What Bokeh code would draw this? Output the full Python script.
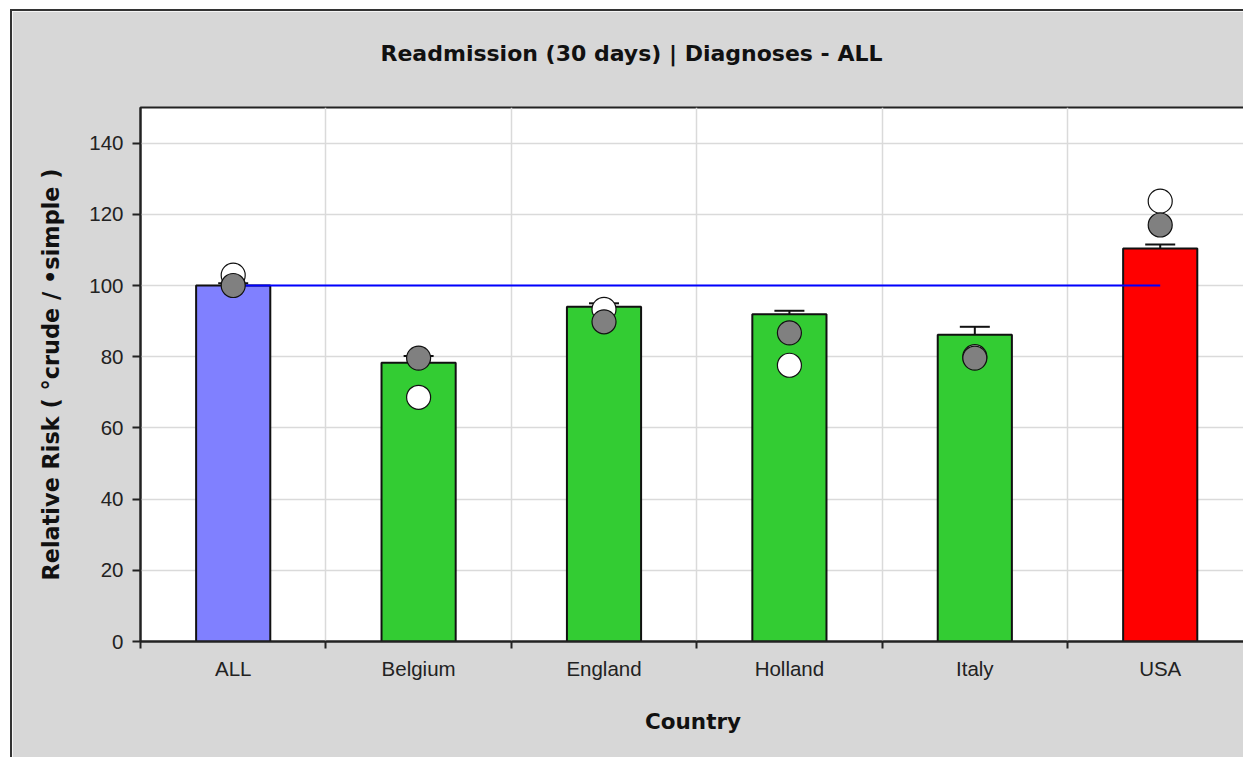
from bokeh.plotting import figure
from bokeh.models import Range1d, FixedTicker, Whisker, ColumnDataSource, TeeHead, Title
from bokeh.embed import file_html
from bokeh.resources import INLINE

# ---- data ----
categories = ["ALL", "Belgium", "England", "Holland", "Italy", "USA"]
relative_risk = [100.0, 78.3, 94.0, 91.9, 86.2, 110.4]
ci_lower = [99.5, 76.4, 92.9, 90.0, 83.9, 109.9]
ci_upper = [100.6, 80.2, 95.0, 92.9, 88.4, 111.5]
crude = [102.9, 68.6, 93.3, 77.6, 80.0, 123.7]
simple = [100.0, 79.6, 89.8, 86.7, 79.6, 117.0]
bar_colors = ["#8080ff", "#33cc33", "#33cc33", "#33cc33", "#33cc33", "#ff0000"]
reference_value = 100
y_ticks = [0, 20, 40, 60, 80, 100, 120, 140]

title_text = "Readmission (30 days) | Diagnoses - ALL"
x_label = "Country"
y_label = "Relative Risk ( \u00b0crude / \u2022simple )"

n = len(categories)
xs = [i + 0.5 for i in range(n)]
bounds = list(range(n + 1))

src = ColumnDataSource(dict(x=xs, top=relative_risk, lo=ci_lower, hi=ci_upper,
                            crude=crude, simple=simple, color=bar_colors))

W, H = 1233, 748
p = figure(width=W, height=H, output_backend="svg", toolbar_location=None,
           x_range=Range1d(0, 5.96), y_range=Range1d(0, 150),
           min_border_left=128, min_border_top=96, min_border_right=0,
           min_border_bottom=118)
p.styles = {"border-top": "2px solid #333333", "border-left": "2px solid #333333",
            "margin-left": "10px", "margin-top": "9px"}

p.background_fill_color = "white"
p.border_fill_color = "#d7d7d7"
p.outline_line_color = "#222222"
p.outline_line_width = 2

# title
p.title.text = title_text
p.title.text_font = "DejaVu Sans"
p.title.text_font_style = "bold"
p.title.text_font_size = "22px"
p.title.text_color = "#111111"
p.title.align = "left"
p.title.offset = 240
p.title.vertical_align = "top"
p.title.standoff = 52

# small blank gap panel between title and plot frame
gap = Title(text=" ", text_font_size="11px", standoff=0)
p.add_layout(gap, "above")

# x axis
xa = p.xaxis[0]
xa.ticker = FixedTicker(ticks=xs, minor_ticks=bounds)
xa.major_label_overrides = {x: c for x, c in zip(xs, categories)}
xa.major_tick_line_color = None
xa.major_tick_out = 0
xa.major_tick_in = 0
xa.minor_tick_out = 7
xa.minor_tick_in = 0
xa.minor_tick_line_color = "#222222"
xa.minor_tick_line_width = 2
xa.axis_line_color = "#222222"
xa.axis_line_width = 2
xa.major_label_text_font = "Liberation Sans"
xa.major_label_text_font_size = "20.5px"
xa.major_label_text_color = "#222222"
xa.major_label_standoff = 8
xa.axis_label = x_label
xa.axis_label_text_font = "DejaVu Sans"
xa.axis_label_text_font_style = "bold"
xa.axis_label_text_font_size = "21.5px"
xa.axis_label_text_color = "#111111"
xa.axis_label_standoff = 26

# y axis
ya = p.yaxis[0]
ya.ticker = FixedTicker(ticks=y_ticks)
ya.minor_tick_line_color = None
ya.major_tick_out = 8
ya.major_tick_in = 0
ya.major_tick_line_color = "#222222"
ya.major_tick_line_width = 2
ya.axis_line_color = "#222222"
ya.axis_line_width = 2
ya.major_label_text_font = "Liberation Sans"
ya.major_label_text_font_size = "20.5px"
ya.major_label_text_color = "#222222"
ya.major_label_standoff = 9
ya.axis_label = y_label
ya.axis_label_text_font = "DejaVu Sans"
ya.axis_label_text_font_style = "bold"
ya.axis_label_text_font_size = "22.4px"
ya.axis_label_text_color = "#111111"
ya.axis_label_standoff = 22

# grids
p.xgrid.grid_line_color = None
p.xgrid.minor_grid_line_color = "#dadada"
p.xgrid.minor_grid_line_width = 1.5
p.ygrid.grid_line_color = "#dadada"
p.ygrid.grid_line_width = 1.5

# bars
p.vbar(x="x", top="top", width=0.4, bottom=0, source=src,
       fill_color="color", line_color="#111111", line_width=2)

# reference line
p.line(x=[xs[0], xs[-1]], y=[reference_value, reference_value],
       line_color="#0000ff", line_width=2)

# markers
p.scatter(x="x", y="crude", source=src, size=24, fill_color="white",
          line_color="#111111", line_width=1.2)
p.scatter(x="x", y="simple", source=src, size=24, fill_color="#808080",
          line_color="#111111", line_width=1.2)

# error bars
w = Whisker(base="x", lower="lo", upper="hi", source=src,
            line_color="#111111", line_width=2,
            upper_head=TeeHead(size=30, line_color="#111111", line_width=2),
            lower_head=TeeHead(size=30, line_color="#111111", line_width=2))
p.add_layout(w)

open("out.html", "w").write(file_html(p, INLINE))
